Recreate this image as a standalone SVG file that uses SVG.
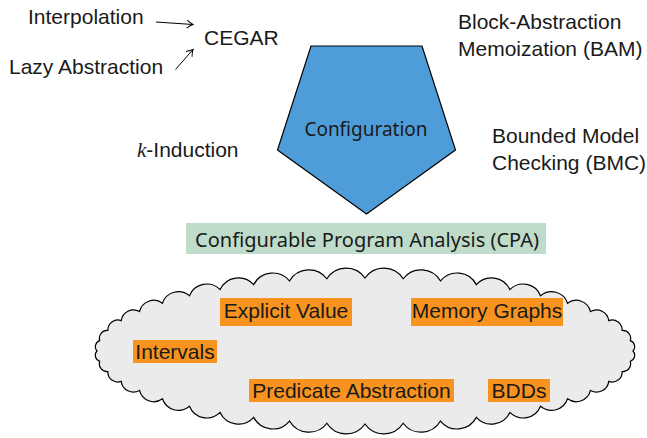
<svg xmlns="http://www.w3.org/2000/svg" width="647" height="438" viewBox="0 0 647 438">
<style>
.t{font-family:"Liberation Sans",Arial,sans-serif;font-size:21px;fill:#1a1a1a}
.h{font-family:"Noto Sans","Open Sans",sans-serif;font-size:19px;fill:#1a1a1a}
.lbl{fill:#f7931e}
.ar{stroke:#000;stroke-width:1;fill:none}
</style>
<defs>
<marker id="ah" markerWidth="10" markerHeight="10" refX="7" refY="5" orient="auto" markerUnits="userSpaceOnUse">
<path d="M1,1 Q4.5,4 7,5 Q4.5,6 1,9" fill="none" stroke="#000" stroke-width="1"/>
</marker>
</defs>
<rect width="647" height="438" fill="#fff"/>
<g id="connectors">
<path class="ar" d="M156,22 L193,24.5" marker-end="url(#ah)"/>
<path class="ar" d="M175.5,69.5 L193,49.5" marker-end="url(#ah)"/>
</g>
<g id="interpolation"><text class="t" x="28" y="24">Interpolation</text></g>
<g id="cegar"><text class="t" x="204" y="45">CEGAR</text></g>
<g id="lazy"><text class="t" x="9" y="74">Lazy Abstraction</text></g>
<g id="bam"><text class="t" x="458" y="29">Block-Abstraction</text><text class="t" x="458" y="56">Memoization (BAM)</text></g>
<g id="bmc"><text class="t" x="492" y="143">Bounded Model</text><text class="t" x="492" y="170">Checking (BMC)</text></g>
<g id="kinduction"><text class="t" x="137" y="157"><tspan font-family="Liberation Serif,serif" font-style="italic">k</tspan>-Induction</text></g>
<g id="configuration">
<polygon points="311,46 422,46 455.5,150 366.5,214 277.5,150" fill="#4f9dd8" stroke="#000" stroke-width="1.2"/>
<text class="h" x="366" y="136" text-anchor="middle">Configuration</text>
</g>
<g id="cpa">
<rect x="186" y="223" width="360" height="31" fill="#bfdccb"/>
<text class="h" x="367" y="247" text-anchor="middle" style="font-size:20px">Configurable Program Analysis (CPA)</text>
</g>
<g id="cloud">
<path fill="#ebebeb" stroke="#000" stroke-width="1.2" d="M633,351
A6.4,6.4 0 0 1 630.27,361.39
A7.8,7.8 0 0 1 622.14,371.57
A9.9,9.9 0 0 1 608.78,381.33
A12.3,12.3 0 0 1 590.46,390.47
A14.6,14.6 0 0 1 567.54,398.8
A16.8,16.8 0 0 1 540.5,406.17
A18.7,18.7 0 0 1 509.89,412.41
A20.4,20.4 0 0 1 476.33,417.4
A21.6,21.6 0 0 1 440.5,421.04
A22.5,22.5 0 0 1 403.14,423.26
A22.9,22.9 0 0 1 365,424
A22.9,22.9 0 0 1 326.86,423.26
A22.5,22.5 0 0 1 289.5,421.04
A21.6,21.6 0 0 1 253.67,417.4
A20.4,20.4 0 0 1 220.11,412.41
A18.7,18.7 0 0 1 189.5,406.17
A16.8,16.8 0 0 1 162.46,398.8
A14.6,14.6 0 0 1 139.54,390.47
A12.3,12.3 0 0 1 121.22,381.33
A9.9,9.9 0 0 1 107.86,371.57
A7.8,7.8 0 0 1 99.73,361.39
A6.4,6.4 0 0 1 97,351
A6.4,6.4 0 0 1 99.73,340.61
A7.8,7.8 0 0 1 107.86,330.43
A9.9,9.9 0 0 1 121.22,320.67
A12.3,12.3 0 0 1 139.54,311.53
A14.6,14.6 0 0 1 162.46,303.2
A16.8,16.8 0 0 1 189.5,295.83
A18.7,18.7 0 0 1 220.11,289.59
A20.4,20.4 0 0 1 253.67,284.6
A21.6,21.6 0 0 1 289.5,280.96
A22.5,22.5 0 0 1 326.86,278.74
A22.9,22.9 0 0 1 365,278
A22.9,22.9 0 0 1 403.14,278.74
A22.5,22.5 0 0 1 440.5,280.96
A21.6,21.6 0 0 1 476.33,284.6
A20.4,20.4 0 0 1 509.89,289.59
A18.7,18.7 0 0 1 540.5,295.83
A16.8,16.8 0 0 1 567.54,303.2
A14.6,14.6 0 0 1 590.46,311.53
A12.3,12.3 0 0 1 608.78,320.67
A9.9,9.9 0 0 1 622.14,330.43
A7.8,7.8 0 0 1 630.27,340.61
A6.4,6.4 0 0 1 633,351 Z"/>
</g>
<g id="explicit"><rect class="lbl" x="220" y="298" width="132" height="28"/><text class="t" x="286" y="318" text-anchor="middle">Explicit Value</text></g>
<g id="memory"><rect class="lbl" x="411" y="298" width="152" height="28"/><text class="t" x="487" y="318" text-anchor="middle">Memory Graphs</text></g>
<g id="intervals"><rect class="lbl" x="133" y="340" width="84" height="23"/><text class="t" x="175" y="359" text-anchor="middle">Intervals</text></g>
<g id="predicate"><rect class="lbl" x="249" y="379" width="205" height="23"/><text class="t" x="351.5" y="398" text-anchor="middle">Predicate Abstraction</text></g>
<g id="bdds"><rect class="lbl" x="488" y="379" width="62" height="23"/><text class="t" x="519" y="398" text-anchor="middle">BDDs</text></g>
</svg>
